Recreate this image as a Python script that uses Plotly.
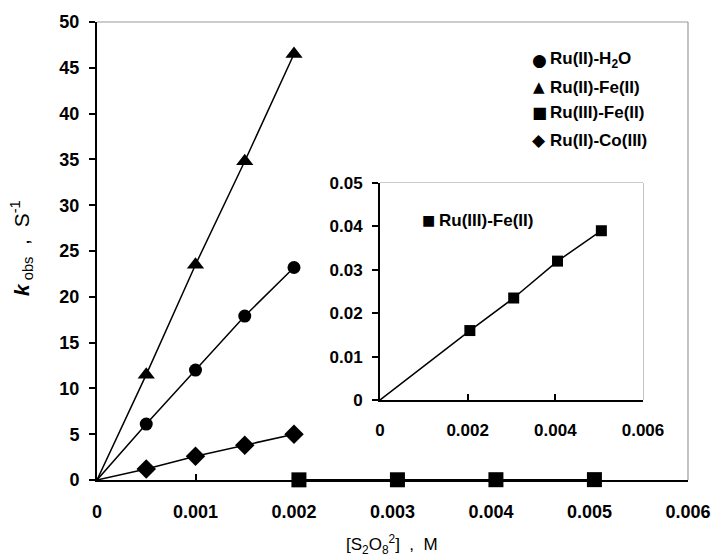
import plotly.graph_objects as go

# ---- data ----
conc = [0.0005, 0.001, 0.0015, 0.002]
k_h2o = [6.1, 12.0, 17.9, 23.2]
k_fe = [11.5, 23.5, 34.8, 46.5]
k_co = [1.2, 2.6, 3.8, 5.0]
conc_ru3 = [0.00205, 0.00305, 0.00405, 0.00505]
k_ru3 = [0.016, 0.0235, 0.032, 0.039]

main_x_ticks = [0, 0.001, 0.002, 0.003, 0.004, 0.005, 0.006]
main_x_labels = ["0", "0.001", "0.002", "0.003", "0.004", "0.005", "0.006"]
main_y_ticks = [0, 5, 10, 15, 20, 25, 30, 35, 40, 45, 50]
inset_x_ticks = [0, 0.002, 0.004, 0.006]
inset_x_labels = ["0", "0.002", "0.004", "0.006"]
inset_y_ticks = [0, 0.01, 0.02, 0.03, 0.04, 0.05]
inset_y_labels = ["0", "0.01", "0.02", "0.03", "0.04", "0.05"]

names = ["Ru(II)-H<sub>2</sub>O", "Ru(II)-Fe(II)", "Ru(III)-Fe(II)", "Ru(II)-Co(III)"]
glyphs = ["●", "▲", "■", "◆"]

FONT = "Liberation Sans, Arial, sans-serif"
fig = go.Figure()

def fit_line(xs, ys, xa="x", ya="y"):
    return go.Scatter(x=[0] + xs, y=[0] + ys, mode="lines",
                      line=dict(color="black", width=1.5),
                      showlegend=False, hoverinfo="skip", xaxis=xa, yaxis=ya,
                      cliponaxis=False)

# fitted lines (main)
fig.add_trace(fit_line(conc, k_fe))
fig.add_trace(fit_line(conc, k_h2o))
fig.add_trace(fit_line(conc, k_co))
fig.add_trace(go.Scatter(x=conc_ru3, y=k_ru3, mode="lines",
                         line=dict(color="black", width=1.5), showlegend=False,
                         hoverinfo="skip", cliponaxis=False))

# markers (main)
fig.add_trace(go.Scatter(x=conc, y=k_h2o, mode="markers", name=names[0],
                         marker=dict(symbol="circle", size=13, color="black"),
                         cliponaxis=False))
fig.add_trace(go.Scatter(x=conc, y=k_fe, mode="markers", name=names[1],
                         marker=dict(symbol="triangle-up", size=15, color="black"),
                         cliponaxis=False))
fig.add_trace(go.Scatter(x=conc_ru3, y=k_ru3, mode="markers", name=names[2],
                         marker=dict(symbol="square", size=15, color="black"),
                         cliponaxis=False))
fig.add_trace(go.Scatter(x=conc, y=k_co, mode="markers", name=names[3],
                         marker=dict(symbol="diamond", size=15, color="black"),
                         cliponaxis=False))

# inset
fig.add_trace(fit_line(conc_ru3, k_ru3, "x2", "y2"))
fig.add_trace(go.Scatter(x=conc_ru3, y=k_ru3, mode="markers", name=names[2],
                         marker=dict(symbol="square", size=11, color="black"),
                         xaxis="x2", yaxis="y2", showlegend=False, cliponaxis=False))

# geometry (paper fractions)
L, R, T, B = 97, 27, 22, 76
W, H = 715, 556
PW, PH = W - L - R, H - T - B
def px(x):
    return (x - L) / PW
def py(y):
    return (H - B - y) / PH

in_x = [px(380), px(643)]
in_y = [py(400), py(183)]

tickfont = dict(family=FONT, size=18, color="black", weight="bold")
itickfont = dict(family=FONT, size=17, color="black", weight="bold")

fig.update_layout(
    width=W, height=H,
    margin=dict(l=L, r=R, t=T, b=B, autoexpand=False),
    paper_bgcolor="white", plot_bgcolor="white",
    font=dict(family=FONT, color="black"),
    showlegend=False,
    xaxis=dict(domain=[0, 1], range=[0, 0.006], tickvals=main_x_ticks,
               ticktext=main_x_labels, automargin=False,
               showgrid=False, zeroline=False, showline=True, linecolor="black",
               linewidth=2, ticks="inside", ticklen=6, tickwidth=1.5, tickcolor="black",
               tickfont=tickfont, ticklabelstandoff=14),
    yaxis=dict(domain=[0, 1], range=[0, 50], tickvals=main_y_ticks, automargin=False,
               showgrid=False, zeroline=False, showline=True, linecolor="black",
               linewidth=2, ticks="outside", ticklen=6, tickwidth=1.5, tickcolor="black",
               tickfont=tickfont, ticklabelstandoff=6),
    xaxis2=dict(domain=in_x, anchor="y2", range=[0, 0.006], tickvals=inset_x_ticks,
                ticktext=inset_x_labels, automargin=False,
                showgrid=False, zeroline=False, showline=True, linecolor="black",
                linewidth=2, ticks="inside", ticklen=6, tickwidth=1.5, tickcolor="black",
                tickfont=itickfont, ticklabelstandoff=14),
    yaxis2=dict(domain=in_y, anchor="x2", range=[0, 0.05], tickvals=inset_y_ticks,
                ticktext=inset_y_labels, automargin=False,
                showgrid=False, zeroline=False, showline=True, linecolor="black",
                linewidth=2, ticks="outside", ticklen=6, tickwidth=1.5, tickcolor="black",
                tickfont=itickfont, ticklabelstandoff=6),
)

# gray top/right frame lines
gray = dict(color="#9a9a9a", width=1.2)
fig.add_shape(type="line", xref="paper", yref="paper", x0=0, x1=1, y0=1, y1=1, line=gray, layer="below")
fig.add_shape(type="line", xref="paper", yref="paper", x0=1, x1=1, y0=0, y1=1, line=gray, layer="below")
fig.add_shape(type="line", xref="paper", yref="paper", x0=in_x[0], x1=in_x[1],
              y0=in_y[1], y1=in_y[1], line=gray, layer="below")
fig.add_shape(type="line", xref="paper", yref="paper", x0=in_x[1], x1=in_x[1],
              y0=in_y[0], y1=in_y[1], line=gray, layer="below")

# axis titles
fig.add_annotation(xref="paper", yref="paper", x=px(392), y=py(544), showarrow=False,
                   xanchor="center", yanchor="middle",
                   text="[S<sub>2</sub>O<sub>8</sub><sup>2</sup>]  ,  M",
                   font=dict(family=FONT, size=17, color="black"))
fig.add_annotation(xref="paper", yref="paper", x=px(21), y=py(248), showarrow=False,
                   xanchor="center", yanchor="middle", textangle=-90,
                   text="<b><i>k</i></b><sub> obs</sub>  ,  S<sup>-1</sup>",
                   font=dict(family=FONT, size=21, color="black"))

# main legend
leg_rows = [60, 87, 113, 140]
glyph_sizes = [17, 15, 16, 17]
for name, g, yy, gs in zip(names, glyphs, leg_rows, glyph_sizes):
    fig.add_annotation(xref="paper", yref="paper", x=px(539), y=py(yy), showarrow=False,
                       xanchor="center", yanchor="middle", text=g,
                       font=dict(family="DejaVu Sans", size=gs, color="black"))
    fig.add_annotation(xref="paper", yref="paper", x=px(548), y=py(yy), showarrow=False,
                       xanchor="left", yanchor="middle", text="<b>" + name + "</b>",
                       font=dict(family=FONT, size=17, color="black"))

# inset legend
fig.add_annotation(xref="paper", yref="paper", x=px(428), y=py(220), showarrow=False,
                   xanchor="center", yanchor="middle", text=glyphs[2],
                   font=dict(family="DejaVu Sans", size=14, color="black"))
fig.add_annotation(xref="paper", yref="paper", x=px(437), y=py(220), showarrow=False,
                   xanchor="left", yanchor="middle", text="<b>" + names[2] + "</b>",
                   font=dict(family=FONT, size=17, color="black"))

fig.write_html("out.html", config={"displayModeBar": False},
               post_script="document.body.style.margin='0';document.body.style.padding='0';")
